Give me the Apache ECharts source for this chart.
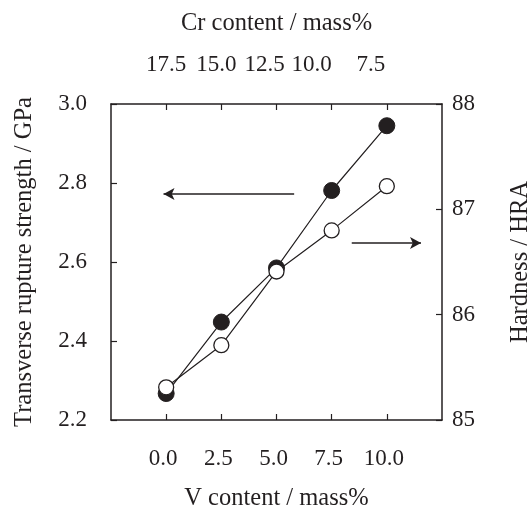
<!DOCTYPE html>
<html>
<head>
<meta charset="utf-8">
<script src="https://cdn.jsdelivr.net/npm/echarts@6/dist/echarts.min.js"></script>
<style>
  html, body { margin: 0; padding: 0; background: #fff; }
  #chart { width: 531px; height: 505px; }
</style>
</head>
<body>
<div id="chart"></div>
<script>
// V content (bottom axis) and matching Cr content (top axis)
const vContent = [0, 2.5, 5.0, 7.5, 10.0];
const strength = [2.267, 2.448, 2.585, 2.781, 2.945];   // GPa, filled circles
const hardness = [85.31, 85.71, 86.41, 86.80, 87.22];   // HRA, open circles

const ink = '#231f20';
const font = 'Liberation Serif';

const chart = echarts.init(document.getElementById('chart'));

const axisCommon = {
  axisLine: { show: true, onZero: false, lineStyle: { color: ink, width: 1.5 } },
  axisTick: { show: true, inside: true, length: 6, lineStyle: { color: ink, width: 1.2 } },
  splitLine: { show: false },
  nameTextStyle: { color: ink, fontFamily: font, fontSize: 24.5 },
};

// top labels in the original sit a bit left of their ticks
const crShift = { '15.0': 5, '12.5': 12, '10.0': 20, '7.5': 16 };
const crRich = {};
Object.keys(crShift).forEach((k, i) => {
  crRich['s' + i] = { padding: [0, crShift[k] * 2, 0, 0] };
});

let option = {
  animation: false,
  backgroundColor: '#fff',
  grid: { left: 111, right: 89, top: 104, bottom: 85, outerBoundsMode: 'none' },
  xAxis: [
    {
      ...axisCommon,
      type: 'value',
      position: 'bottom',
      min: -2.5, max: 12.5, interval: 2.5,
      name: 'V content / mass%',
      nameLocation: 'middle',
      nameGap: 66,
      axisLabel: {
        color: ink, fontFamily: font, fontSize: 23, margin: 27,
        padding: [0, 6, 0, 0],
        showMinLabel: false, showMaxLabel: false,
        formatter: v => v.toFixed(1)
      }
    },
    {
      ...axisCommon,
      type: 'value',
      position: 'top',
      inverse: true,
      min: 5, max: 20, interval: 2.5,
      name: 'Cr content / mass%',
      nameLocation: 'middle',
      nameGap: 68,
      axisLabel: {
        color: ink, fontFamily: font, fontSize: 23, margin: 28,
        showMinLabel: false, showMaxLabel: false,
        formatter: v => {
          const t = v.toFixed(1);
          const i = Object.keys(crShift).indexOf(t);
          return i < 0 ? t : '{s' + i + '|' + t + '}';
        },
        rich: crRich
      }
    }
  ],
  yAxis: [
    {
      ...axisCommon,
      type: 'value',
      position: 'left',
      min: 2.2, max: 3.0, interval: 0.2,
      name: 'Transverse rupture strength / GPa',
      nameLocation: 'middle',
      nameGap: 74,
      axisLabel: { color: ink, fontFamily: font, fontSize: 23, margin: 24, formatter: v => v.toFixed(1) }
    },
    {
      ...axisCommon,
      type: 'value',
      position: 'right',
      min: 85, max: 88, interval: 1,
      name: 'Hardness / HRA',
      nameLocation: 'middle',
      nameGap: 66,
      axisLabel: { color: ink, fontFamily: font, fontSize: 23, margin: 10 }
    }
  ],
  series: [
    {
      name: 'Transverse rupture strength',
      type: 'line',
      xAxisIndex: 0,
      yAxisIndex: 0,
      data: vContent.map((v, i) => [v, strength[i]]),
      symbol: 'circle',
      symbolSize: 16,
      itemStyle: { color: ink, borderColor: ink, borderWidth: 1 },
      lineStyle: { color: ink, width: 1.2 },
      markLine: {
        silent: true,
        symbol: ['none', 'arrow'],
        symbolSize: [9, 11],
        label: { show: false },
        lineStyle: { color: ink, width: 1.5, type: 'solid' },
        data: [[{ coord: [5.8, 2.772] }, { coord: [-0.12, 2.772] }]]
      }
    },
    {
      name: 'Hardness',
      type: 'line',
      xAxisIndex: 0,
      yAxisIndex: 1,
      data: vContent.map((v, i) => [v, hardness[i]]),
      symbol: 'circle',
      symbolSize: 15,
      itemStyle: { color: '#fff', borderColor: ink, borderWidth: 1.3 },
      lineStyle: { color: ink, width: 1.2 },
      markLine: {
        silent: true,
        symbol: ['none', 'arrow'],
        symbolSize: [9, 11],
        label: { show: false },
        lineStyle: { color: ink, width: 1.5, type: 'solid' },
        data: [[{ coord: [8.41, 86.68] }, { coord: [11.55, 86.68] }]]
      }
    }
  ]
};

chart.setOption(option);
</script>
</body>
</html>
